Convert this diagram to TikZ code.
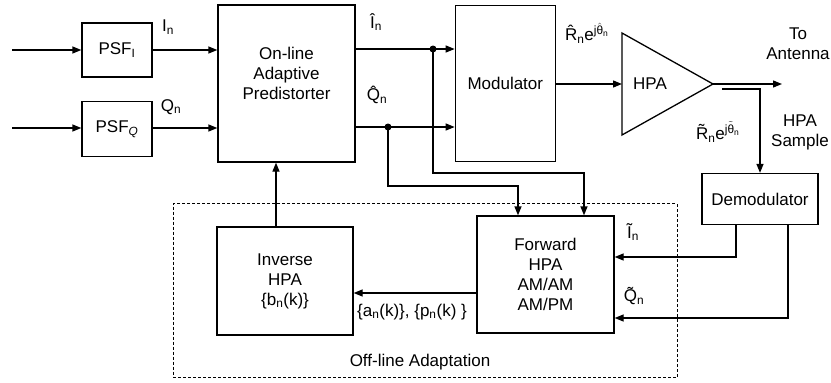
\documentclass[tikz,border=0pt]{standalone}
\usepackage{amsmath}
\usepackage{fontspec}
\setmainfont{Liberation Sans}
\usepackage{tikz}
\usetikzlibrary{arrows.meta,positioning,calc}

\begin{document}
\begin{tikzpicture}[
  x=1pt,y=-1pt,
  font=\fontsize{17}{20}\selectfont,
  every node/.style={align=center},
  blk/.style ={rectangle,draw=black,line width=1.3pt,fill=white,inner sep=2pt},
  lbl/.style ={inner sep=0pt},
  offbox/.style ={rectangle,draw=black,line width=0.9pt,dash pattern=on 3pt off 2pt},
  arrx/.style ={-{Triangle[length=9pt,width=7pt]},draw=black,line width=1.3pt},
  wire/.style ={draw=black,line width=1.3pt}
]
\useasboundingbox (0,0) rectangle (831,383);

% pulse shaping filters
\node[blk,minimum width=70pt,minimum height=54pt] (psfi) at (117,50) {PSF$_{\text{I}}$};
\node[blk,minimum width=70pt,minimum height=55pt,below=23.5pt of psfi] (psfq) {PSF$_{\textit{Q}}$};
\coordinate (inI) at (12,50);
\coordinate (inQ) at (12,128);

% on-line blocks
\node[blk,minimum width=137pt,minimum height=157pt] (pred) at (286.5,83.5) {};
\node[lbl] (predtxt) at ([yshift=10pt]pred.center) {On-line\\Adaptive\\Predistorter};
\node[blk,minimum width=100pt,minimum height=156pt,right=99pt of pred] (mod) {Modulator};

% amplifier
\coordinate (hpain) at (622,84);
\coordinate (hpaout) at (713,84);
\draw[wire,line join=miter] (622,33) -- (hpaout) -- (622,135) -- cycle;
\node[lbl] (hpa) at (650,84) {HPA};
\coordinate (ant) at (782,84);
\coordinate (smp) at (722,89);

\node[blk,minimum width=116pt,minimum height=51pt] (demod) at (760,199) {Demodulator};

% off-line adaptation
\node[offbox,minimum width=504pt,minimum height=174pt] (off) at (425,290.5) {};
\node[lbl] (offlbl) at (420,362) {Off-line Adaptation};
\node[blk,minimum width=137pt,minimum height=117pt] (fwd) at (545.5,274.5) {Forward\\HPA\\AM/AM\\AM/PM};
\node[blk,minimum width=136pt,minimum height=108pt] (inv) at (285,281) {Inverse\\HPA\\\{b$_{\text{n}}$(k)\}};

% taps
\coordinate (dI) at (433,49);
\coordinate (dQ) at (388,127);

% inputs
\draw[arrx] (inI) -- (psfi);
\draw[arrx] (inQ) -- (inQ -| psfq.west);
\draw[arrx] (psfi.east) -- (psfi.east -| pred.west);
\draw[arrx] (inQ -| psfq.east) -- (inQ -| pred.west);

% predistorter -> modulator
\draw[wire] (pred.east |- dI) -- (dI);
\draw[arrx] (dI) -- (dI -| mod.west);
\draw[wire] (pred.east |- dQ) -- (dQ);
\draw[arrx] (dQ) -- (dQ -| mod.west);
\fill (dI) circle (3.5pt);
\fill (dQ) circle (3.5pt);

% taps -> forward model
\draw[arrx] (dI) -- ++(0,124) -| ([xshift=38.5pt]fwd.north);
\draw[arrx] (dQ) -- ++(0,59) -| ([xshift=-27.5pt]fwd.north);

% modulator -> HPA -> antenna, sample
\draw[arrx] (mod.east |- hpain) -- (hpain);
\draw[arrx] (hpaout) -- (ant);
\draw[arrx] (smp) -| (demod.north);

% demodulator -> forward model
\draw[arrx] ([xshift=-24pt]demod.south) |- ([yshift=17.5pt]fwd.east);
\draw[arrx] ([xshift=28pt]demod.south) |- ([yshift=-43.5pt]fwd.east);

% forward -> inverse -> predistorter
\draw[arrx] ([yshift=-18.5pt]fwd.west) -- ([yshift=-18.5pt]fwd.west -| inv.east);
\draw[arrx] ([xshift=-9pt]inv.north) -- ([xshift=-9pt]inv.north |- pred.south);

% signal labels
\node[lbl] (lI) at (168,27) {I$_{\text{n}}$};
\node[lbl] (lQ) at (171,107) {Q$_{\text{n}}$};
\node[lbl] (lIh) at (376,22) {Î$_{\text{n}}$};
\node[lbl] (lQh) at (377,95) {Q̂$_{\text{n}}$};
\node[lbl] (lRh) at (587,33) {R̂$_{\text{n}}$e$^{\text{j}\hat{\text{θ}}_{\text{n}}}$};
\node[lbl] (lRt) at (718,132) {R̃$_{\text{n}}$e$^{\text{j}\tilde{\text{θ}}_{\text{n}}}$};
\node[lbl] (lant) at (798,44) {To\\Antenna};
\node[lbl] (lsmp) at (800,132) {HPA\\Sample};
\node[lbl] (lIt) at (633,232) {Ĩ$_{\text{n}}$};
\node[lbl] (lQt) at (634,296) {Q̃$_{\text{n}}$};
\node[lbl] (lap) at (412,312) {\{a$_{\text{n}}$(k)\}, \{p$_{\text{n}}$(k) \}};
\end{tikzpicture}
\end{document}
